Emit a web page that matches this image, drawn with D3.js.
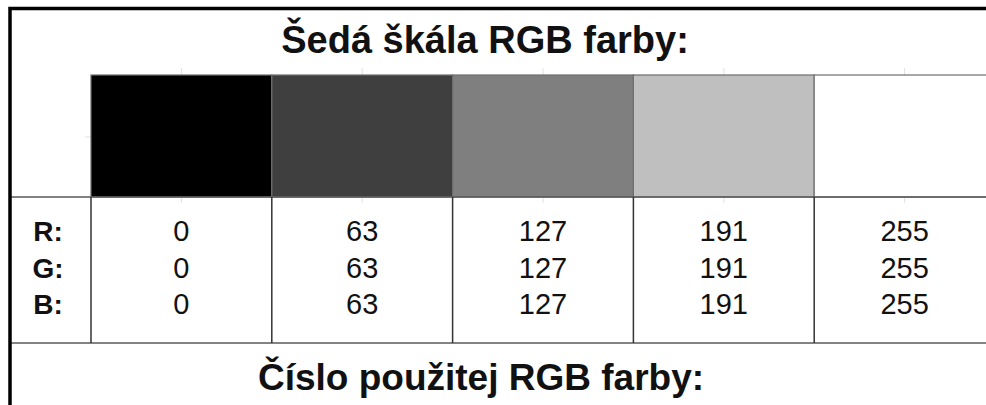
<!DOCTYPE html>
<html>
<head>
<meta charset="utf-8">
<script src="https://cdn.jsdelivr.net/npm/d3@7"></script>
<style>
  html, body { margin: 0; padding: 0; background: #fff; }
  text { font-family: "Liberation Sans", Arial, sans-serif; }
</style>
</head>
<body>
<div id="chart"></div>
<script>
const width = 986;
const height = 405;

const title = "Šedá škála RGB farby:";
const footer = "Číslo použitej RGB farby:";
const channels = ["R", "G", "B"];
const levels = [0, 63, 127, 191, 255];

const svg = d3
  .select("#chart")
  .append("svg")
  .attr("width", width)
  .attr("height", height);

// column scale for the five swatches
const x = d3.scaleBand().domain(levels).range([91, 995]).padding(0);
const rowY = d3.scalePoint().domain(channels).range([241, 314]);

const swatchTop = 75;
const swatchBottom = 197;
const tableBottom = 343;

// faint tick remnants
const ticks = svg.append("g").attr("stroke", "#e2e2e2").attr("stroke-width", 1);
levels.forEach((v) => {
  const cx = x(v) + x.bandwidth() / 2;
  ticks.append("line").attr("x1", cx).attr("x2", cx).attr("y1", 68).attr("y2", swatchTop);
  ticks.append("line").attr("x1", cx).attr("x2", cx).attr("y1", swatchBottom).attr("y2", swatchBottom + 6);
});
ticks.append("line").attr("x1", 85).attr("x2", 91).attr("y1", 137).attr("y2", 137);

// swatches
svg
  .append("g")
  .selectAll("rect")
  .data(levels)
  .enter()
  .append("rect")
  .attr("x", (d) => x(d))
  .attr("y", swatchTop)
  .attr("width", x.bandwidth())
  .attr("height", swatchBottom - swatchTop)
  .attr("fill", (d) => d3.rgb(d, d, d))
  .attr("stroke", "#6e6e6e")
  .attr("stroke-width", 1.2);

// grid lines of the value table
const grid = svg.append("g").attr("stroke", "#5a5a5a").attr("stroke-width", 1.5);
grid.append("line").attr("x1", 10).attr("x2", width).attr("y1", swatchBottom).attr("y2", swatchBottom);
grid.append("line").attr("x1", 10).attr("x2", width).attr("y1", tableBottom).attr("y2", tableBottom);
levels.forEach((v) => {
  grid
    .append("line")
    .attr("x1", x(v))
    .attr("x2", x(v))
    .attr("y1", swatchBottom)
    .attr("y2", tableBottom)
    .attr("stroke", "#333");
});

// outer frame (top and left)
svg
  .append("path")
  .attr("d", `M10,${height} V8.5 H${width}`)
  .attr("fill", "none")
  .attr("stroke", "#000")
  .attr("stroke-width", 3.5);

// titles
svg
  .append("text")
  .attr("x", 485)
  .attr("y", 53)
  .attr("text-anchor", "middle")
  .attr("font-size", 38)
  .attr("font-weight", "bold")
  .attr("fill", "#111")
  .text(title);

svg
  .append("text")
  .attr("x", 481)
  .attr("y", 390)
  .attr("text-anchor", "middle")
  .attr("font-size", 37)
  .attr("font-weight", "bold")
  .attr("fill", "#111")
  .text(footer);

// channel labels
svg
  .append("g")
  .selectAll("text")
  .data(channels)
  .enter()
  .append("text")
  .attr("x", 48)
  .attr("y", (d) => rowY(d))
  .attr("text-anchor", "middle")
  .attr("font-size", 28)
  .attr("font-weight", "bold")
  .attr("fill", "#111")
  .text((d) => d + ":");

// values
const cells = [];
channels.forEach((c) => levels.forEach((v) => cells.push({ c, v })));
svg
  .append("g")
  .selectAll("text")
  .data(cells)
  .enter()
  .append("text")
  .attr("x", (d) => x(d.v) + x.bandwidth() / 2)
  .attr("y", (d) => rowY(d.c))
  .attr("text-anchor", "middle")
  .attr("font-size", 29)
  .attr("fill", "#111")
  .text((d) => d.v);
</script>
</body>
</html>
